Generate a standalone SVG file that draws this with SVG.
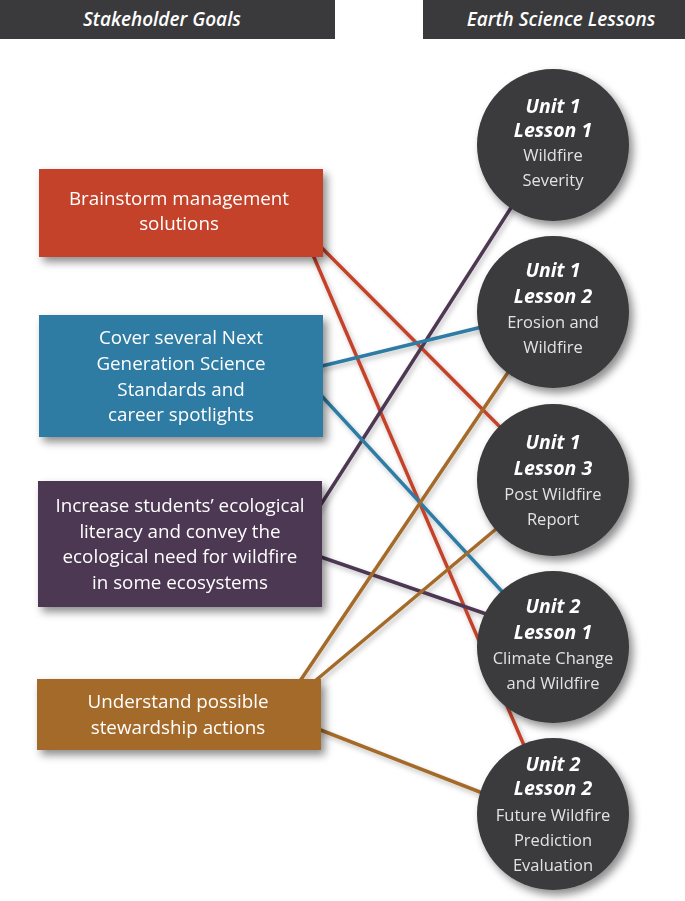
<svg xmlns="http://www.w3.org/2000/svg" width="685" height="901" viewBox="0 0 685 901">
<defs>
<filter id="sh" x="-20%" y="-20%" width="150%" height="150%">
<feDropShadow dx="4" dy="5" stdDeviation="4" flood-color="#000" flood-opacity="0.45"/>
</filter>
<filter id="lsh" x="-10%" y="-10%" width="130%" height="130%">
<feDropShadow dx="2" dy="3" stdDeviation="2.5" flood-color="#000" flood-opacity="0.25"/>
</filter>
</defs>
<style>
.hdr{fill:#3a3a3c}
.htxt{font-family:"Open Sans","Noto Sans",sans-serif;font-style:italic;font-weight:600;font-size:19px;fill:#fff;text-anchor:middle}
.btxt{font-family:"Open Sans","Noto Sans",sans-serif;font-size:18.8px;fill:#fff;text-anchor:middle}
.circ{fill:#3a3a3c}
.ct1{font-family:"Open Sans","Noto Sans",sans-serif;font-style:italic;font-weight:700;font-size:19.5px;fill:#fff;text-anchor:middle}
.ct2{font-family:"Open Sans","Noto Sans",sans-serif;font-size:16.5px;fill:#e2e2e2;text-anchor:middle}
.ln{stroke-width:3.5;fill:none;stroke-linecap:butt}
.red{stroke:#c4432a}.blue{stroke:#2e7ca4}.pur{stroke:#4e3752}.brn{stroke:#a46b2a}
</style>
<rect width="685" height="901" fill="#fff"/>
<g id="header-left"><rect class="hdr" x="0" y="0" width="335" height="39"/><text class="htxt" x="162" y="26">Stakeholder Goals</text></g>
<g id="header-right"><rect class="hdr" x="423" y="0" width="262" height="39"/><text class="htxt" x="561" y="26">Earth Science Lessons</text></g>
<g id="connectors" filter="url(#lsh)">
<line class="ln red" x1="318" y1="244" x2="505" y2="432"/>
<line class="ln red" x1="313" y1="255" x2="526" y2="750"/>
<line class="ln pur" x1="318" y1="509" x2="516" y2="200"/>
<line class="ln pur" x1="318" y1="556" x2="492" y2="616"/>
<line class="ln blue" x1="318" y1="367" x2="486" y2="326"/>
<line class="ln blue" x1="318" y1="392" x2="508" y2="598"/>
<line class="ln brn" x1="300" y1="681" x2="513" y2="365"/>
<line class="ln brn" x1="315" y1="681" x2="502" y2="524"/>
<line class="ln brn" x1="318" y1="729" x2="485" y2="794"/>
</g>
<g id="goal-brainstorm" filter="url(#sh)"><rect x="39" y="169" width="284" height="88" fill="#c4432a"/><text class="btxt" x="179" y="205">Brainstorm management</text><text class="btxt" x="179" y="230">solutions</text></g>
<g id="goal-ngss" filter="url(#sh)"><rect x="39" y="315" width="284" height="122" fill="#2e7ca4"/><text class="btxt" x="181" y="344">Cover several Next</text><text class="btxt" x="181" y="370">Generation Science</text><text class="btxt" x="181" y="396">Standards and</text><text class="btxt" x="181" y="421">career spotlights</text></g>
<g id="goal-literacy" filter="url(#sh)"><rect x="38" y="481" width="284" height="126" fill="#4e3752"/><text class="btxt" x="180" y="512">Increase students’ ecological</text><text class="btxt" x="180" y="538">literacy and convey the</text><text class="btxt" x="180" y="563">ecological need for wildfire</text><text class="btxt" x="180" y="589">in some ecosystems</text></g>
<g id="goal-stewardship" filter="url(#sh)"><rect x="37" y="679" width="284" height="71" fill="#a46b2a"/><text class="btxt" x="178" y="708">Understand possible</text><text class="btxt" x="178" y="734">stewardship actions</text></g>
<g id="u1l1" filter="url(#sh)"><circle class="circ" cx="553" cy="145" r="76"/><text class="ct1" x="553" y="113">Unit 1</text><text class="ct1" x="553" y="137">Lesson 1</text><text class="ct2" x="553" y="161">Wildfire</text><text class="ct2" x="553" y="186">Severity</text></g>
<g id="u1l2" filter="url(#sh)"><circle class="circ" cx="553" cy="312" r="76"/><text class="ct1" x="553" y="277">Unit 1</text><text class="ct1" x="553" y="303">Lesson 2</text><text class="ct2" x="553" y="328">Erosion and</text><text class="ct2" x="553" y="353">Wildfire</text></g>
<g id="u1l3" filter="url(#sh)"><circle class="circ" cx="553" cy="480" r="76"/><text class="ct1" x="553" y="449">Unit 1</text><text class="ct1" x="553" y="475">Lesson 3</text><text class="ct2" x="553" y="500">Post Wildfire</text><text class="ct2" x="553" y="525">Report</text></g>
<g id="u2l1" filter="url(#sh)"><circle class="circ" cx="553" cy="647" r="76"/><text class="ct1" x="553" y="613">Unit 2</text><text class="ct1" x="553" y="639">Lesson 1</text><text class="ct2" x="553" y="664">Climate Change</text><text class="ct2" x="553" y="689">and Wildfire</text></g>
<g id="u2l2" filter="url(#sh)"><circle class="circ" cx="553" cy="814" r="76"/><text class="ct1" x="553" y="771">Unit 2</text><text class="ct1" x="553" y="795">Lesson 2</text><text class="ct2" x="553" y="821">Future Wildfire</text><text class="ct2" x="553" y="846">Prediction</text><text class="ct2" x="553" y="871">Evaluation</text></g>
</svg>
